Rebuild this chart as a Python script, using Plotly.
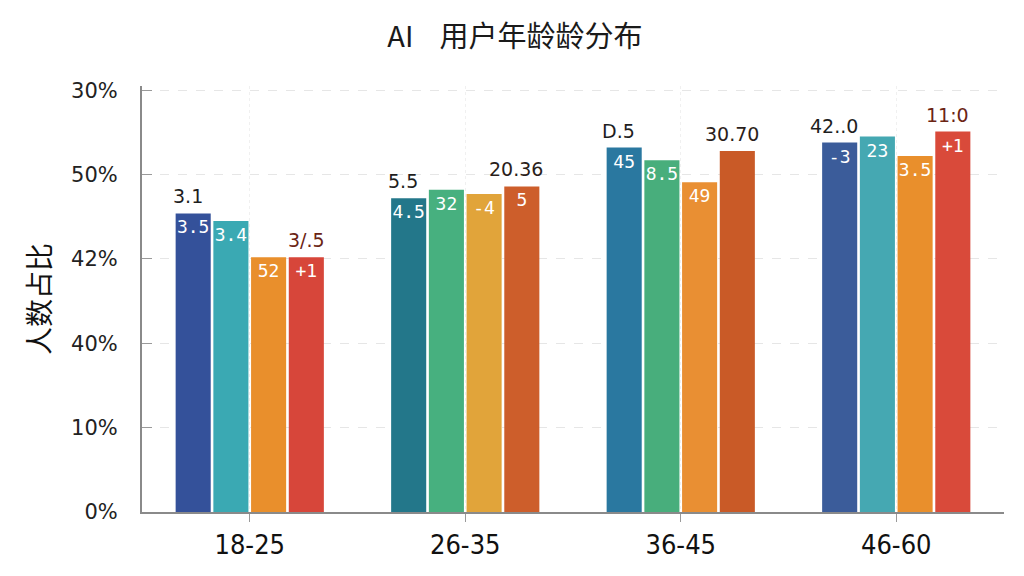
import plotly.graph_objects as go

# age groups on the x axis
age_groups = ['18-25', '26-35', '36-45', '46-60']

slot_1 = [35.4, 37.2, 43.2, 43.8]
slot_2 = [34.5, 38.2, 41.7, 44.5]
slot_3 = [30.2, 37.7, 39.1, 42.2]
slot_4 = [30.2, 38.6, 42.8, 45.1]

# white labels drawn inside the top of each bar
inner_1 = ['3.5', '4.5', '45', '-3']
inner_2 = ['3.4', '32', '8.5', '23']
inner_3 = ['52', '-4', '49', '3.5']
inner_4 = ['+1', '5', '', '+1']

# labels above the first and last bar of each group
top_first = ['3.1', '5.5', 'D.5', '42..0']
top_last = ['3/.5', '20.36', '30.70', '11:0']

# y ticks as printed in the picture
y_tick_vals = [0, 10, 20, 30, 40, 50]
y_tick_text = ['0%', '10%', '40%', '42%', '50%', '30%']

colors_1 = ['#34519a', '#23778a', '#2a78a0', '#3b5c9a']
colors_2 = ['#3aa9b3', '#47b07f', '#48ae7c', '#45a8b2']
colors_3 = ['#e98f2c', '#e1a43a', '#e98f33', '#e98f2c']
colors_4 = ['#d7463a', '#cd5e2b', '#c95a27', '#d94a3a']

slots = [slot_1, slot_2, slot_3, slot_4]
inners = [inner_1, inner_2, inner_3, inner_4]
colors = [colors_1, colors_2, colors_3, colors_4]

fig = go.Figure()
for vals, txt, col in zip(slots, inners, colors):
    fig.add_trace(go.Bar(
        x=age_groups,
        y=vals,
        text=txt,
        textposition='inside',
        insidetextanchor='end',
        textangle=0,
        constraintext='none',
        textfont=dict(family='DejaVu Sans Mono', size=18, color='white'),
        marker=dict(color=col, line=dict(width=0)),
        showlegend=False,
        hoverinfo='skip',
    ))

# horizontal offset of the outer bars from the category centre (px)
edge_shift = 57
label_font = 'DejaVu Sans'
for i, grp in enumerate(age_groups):
    fig.add_annotation(
        x=grp, y=slot_1[i], text=top_first[i], showarrow=False,
        xshift=-edge_shift - 5, yshift=4, yanchor='bottom',
        font=dict(family=label_font, size=19, color='#1e1e1e'),
    )
    fig.add_annotation(
        x=grp, y=slot_4[i], text=top_last[i], showarrow=False,
        xshift=edge_shift - 6 if i else edge_shift, yshift=4, yanchor='bottom',
        font=dict(family=label_font, size=19,
                  color='#6b2414' if i in (0, 3) else '#2a1e1a'),
    )

# the page body adds an 8px offset, margins are set to make up for it
fig.update_layout(
    width=1024,
    height=576,
    paper_bgcolor='white',
    plot_bgcolor='white',
    margin=dict(l=134, r=28, t=78, b=72, autoexpand=False),
    barmode='group',
    bargap=0.3,
    bargroupgap=0.07,
    title=dict(
        text='AI&nbsp;&nbsp;&nbsp;&nbsp;用户年龄龄分布',
        x=0.495, xanchor='center', y=0.95, yanchor='middle',
        font=dict(family='Noto Sans CJK SC', size=29, color='#1a1a1a'),
    ),
    xaxis=dict(
        showline=True, linecolor='#8a8a8a', linewidth=2,
        ticks='outside', ticklen=8, tickcolor='#9a9a9a',
        showgrid=True, gridcolor='#f0f0f0', griddash='dot',
        tickfont=dict(family='Liberation Sans Narrow, DejaVu Sans Condensed',
                      size=27, color='#111111'),
    ),
    yaxis=dict(
        range=[0, 50.5],
        tickvals=y_tick_vals, ticktext=y_tick_text,
        showline=True, linecolor='#8a8a8a', linewidth=2,
        ticks='inside', ticklen=10, tickcolor='#9a9a9a',
        ticklabelstandoff=18,
        showgrid=True, gridcolor='#e6e6e6', griddash='dash',
        zeroline=False,
        tickfont=dict(family='DejaVu Sans', size=21, color='#222222'),
        title=dict(text='人数占比', standoff=12,
                   font=dict(family='Noto Sans CJK SC', size=28, color='#111111')),
    ),
)

fig.write_html('out.html')
